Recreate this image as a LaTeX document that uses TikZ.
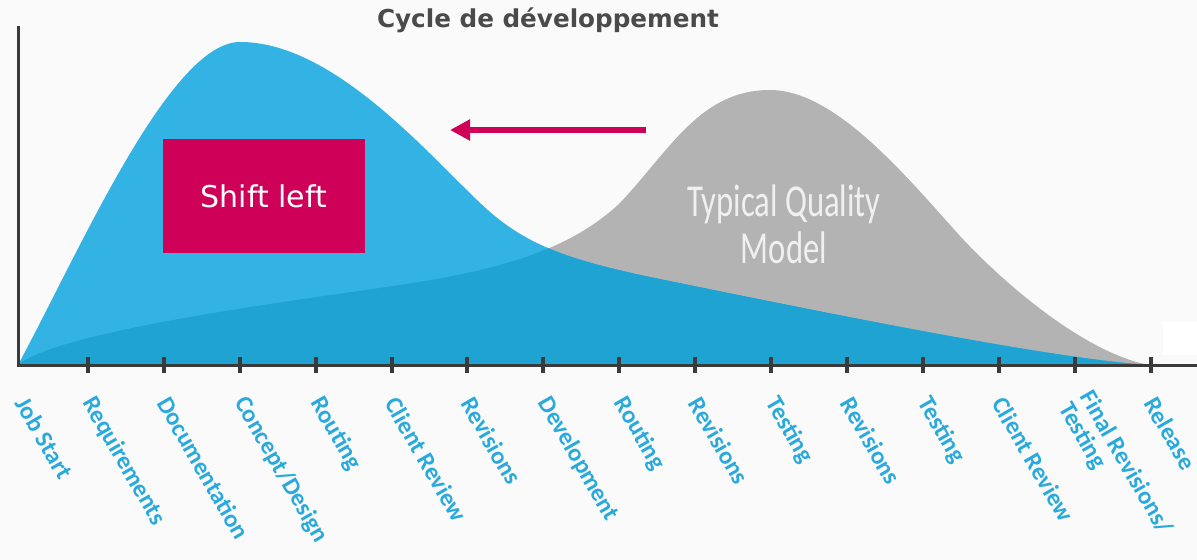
\documentclass[tikz,border=0pt]{standalone}
\usepackage{fontspec}
\setmainfont{DejaVu Sans}
\newfontfamily\stepfont{Carlito}
\usetikzlibrary{arrows.meta, positioning}
\definecolor{PageGray}{HTML}{FAFAFA}
\definecolor{CurveBlue}{HTML}{33B3E4}
\definecolor{OverlapBlue}{HTML}{1EA3D3}
\definecolor{QualityGray}{HTML}{B3B3B3}
\definecolor{AxisGray}{HTML}{3A3A3A}
\definecolor{LabelBlue}{HTML}{2AAADC}
\definecolor{ShiftPink}{HTML}{CE0058}
\definecolor{TitleGray}{HTML}{4A4A4A}

\begin{document}
\begin{tikzpicture}[x = 0.75pt, y = -0.75pt]%
    %
    \def\tickgap{75.9}%
    \def\bluecurve{(18,365) .. controls (80,250) and (170,42) .. (240,42) .. controls (330,42) and (420,145) .. (477,200) .. controls (520,242) and (560,258) .. (650,277) .. controls (850,318) and (1050,358) .. (1148,365)}%
    \def\graycurve{(18,365) .. controls (60,330) and (300,300) .. (400,285) .. controls (500,270) and (570,250) .. (620,203) .. controls (670,150) and (700,90) .. (770,90) .. controls (835,90) and (905,175) .. (960,236) .. controls (1010,290) and (1090,355) .. (1150,365)}%
    %
    \tikzstyle{axis} = [line width = 2.25pt, draw = AxisGray]%
    \tikzstyle{tickmark} = [line width = 3pt, draw = AxisGray]%
    \tikzstyle{steplabel} = [anchor = west, inner sep = 0pt, rotate = -60, align = left, text = LabelBlue, font = \stepfont\bfseries\fontsize{18.5}{18}\selectfont]%
    \tikzstyle{shiftbox} = [fill = ShiftPink, text = white, minimum width = 151.5pt, minimum height = 85.5pt, inner sep = 0pt, font = \fontsize{22.5}{26}\selectfont]%
    \tikzstyle{shiftarrow} = [-{Triangle[length = 15pt, width = 15pt]}, line width = 4.5pt, draw = ShiftPink]%
    \tikzstyle{titletext} = [anchor = base, text = TitleGray, font = \bfseries\fontsize{18.5}{22}\selectfont]%
    %
    % Page
    \useasboundingbox (0,0) rectangle (1197,560);%
    \clip (0,0) rectangle (1197,560);%
    \fill [PageGray] (0,0) rectangle (1197,560);%
    \fill [white] (1163,322) rectangle (1197,355);%
    %
    % Curves
    \fill [QualityGray] \graycurve -- cycle;%
    \fill [CurveBlue] \bluecurve -- cycle;%
    \begin{scope}%
        \clip \graycurve -- cycle;%
        \fill [OverlapBlue] \bluecurve -- cycle;%
    \end{scope}%
    \node [text = white!94!black, inner sep = 0pt] (quality) at (784,231) {\stepfont\fontsize{24.5}{25}\selectfont\scalebox{1}[1.4]{\begin{tabular}{@{}c@{}}Typical Quality\\Model\end{tabular}}};%
    %
    % Axes
    \coordinate (origin) at (18,365);%
    \coordinate (ytop) at (18,26);%
    \coordinate (xend) at (1197,365);%
    \draw [axis] (ytop) -- (origin) -- (xend);%
    \foreach \i in {1,...,15}%
        \draw [tickmark] ({12+\i*\tickgap},357) -- ({12+\i*\tickgap},373);%
    %
    % Steps
    \foreach \name [count = \i from 0] in {Job Start, Requirements, Documentation, Concept/Design, Routing, Client Review, Revisions, Development, Routing, Revisions, Testing, Revisions, Testing, Client Review, {Final Revisions/\\Testing}, Release}%
        \node [steplabel] (step\i) at ({max(22,12+\i*\tickgap)},399) {\name};%
    %
    % Shift left
    \node [shiftbox] (shift) at (264,196) {Shift left};%
    \coordinate (arrowtail) at (646,130);%
    \coordinate (arrowtip) at (450,130);%
    \draw [shiftarrow] (arrowtail) -- (arrowtip);%
    %
    % Title
    \node [titletext] (title) at (548,28) {Cycle de développement};%
    %
\end{tikzpicture}
\end{document}
